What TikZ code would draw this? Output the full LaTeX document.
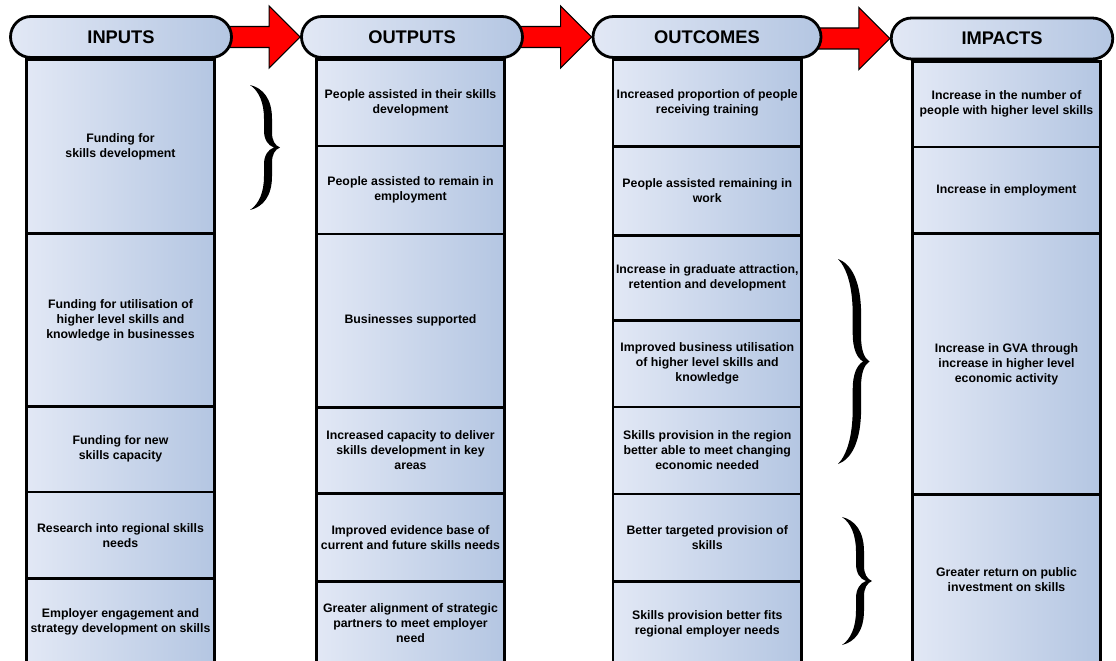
\documentclass[tikz,border=0pt]{standalone}
\usepackage{fontspec}
\setmainfont{Liberation Sans}
\usetikzlibrary{calc,backgrounds}
\definecolor{boxl}{RGB}{226,232,245}
\definecolor{boxr}{RGB}{180,198,226}
\definecolor{arrred}{RGB}{255,0,0}
\newcommand\cellbox[5]{\node[cell, minimum height=#4pt] (#1) at (#2,#3) {#5};}
\begin{document}
\begin{tikzpicture}[x=1pt,y=-1pt,
  cell/.style={draw=black, line width=2.8pt, left color=boxl, right color=boxr,
    align=center, font=\bfseries\fontsize{12.3}{15}\selectfont,
    minimum width=188.5pt, anchor=north, inner sep=2pt},
  head/.style={draw=black, line width=2.8pt, rounded corners=20.5pt,
    left color=boxl, right color=boxr, minimum height=41pt,
    font=\bfseries\fontsize{18.3}{20}\selectfont},
  arrowsty/.style={draw=black, line width=1.2pt, fill=arrred, line join=miter},
  curly/.pic={
    \fill[black] (0,0) .. controls (13,3) and (22,14) .. (22,34) -- (22,48)
      .. controls (22,56) and (25,61) .. (30,63)
      .. controls (25,65) and (22,70) .. (22,78) -- (22,92)
      .. controls (22,112) and (13,123) .. (0,126)
      .. controls (9,120) and (14,108) .. (14,92) -- (14,80)
      .. controls (14,71) and (18,65) .. (24,63)
      .. controls (18,61) and (14,55) .. (14,46) -- (14,34)
      .. controls (14,18) and (9,6) .. (0,0) -- cycle;
  }]
\useasboundingbox (0,0) rectangle (1116,661);
\clip (0,0) rectangle (1116,661);

% INPUTS column
\cellbox{i1}{120.5}{58}{174}{Funding for\\skills development}
\cellbox{i2}{120.5}{232}{173}{Funding for utilisation of\\higher level skills and\\knowledge in businesses}
\cellbox{i3}{120.5}{405}{85.5}{Funding for new\\skills capacity}
\cellbox{i4}{120.5}{490.5}{86.5}{Research into regional skills\\needs}
\cellbox{i5}{120.5}{577}{87}{Employer engagement and\\strategy development on skills}

% OUTPUTS column
\cellbox{o1}{410.5}{58}{86.5}{People assisted in their skills\\development}
\cellbox{o2}{410.5}{144.5}{88}{People assisted to remain in\\employment}
\cellbox{o3}{410.5}{232.5}{173.5}{Businesses supported}
\cellbox{o4}{410.5}{406}{86}{Increased capacity to deliver\\skills development in key\\areas}
\cellbox{o5}{410.5}{492}{88}{Improved evidence base of\\current and future skills needs}
\cellbox{o6}{410.5}{580}{84}{Greater alignment of strategic\\partners to meet employer\\need}

% OUTCOMES column
\cellbox{c1}{707.25}{58}{87}{Increased proportion of people\\receiving training}
\cellbox{c2}{707.25}{145}{89}{People assisted remaining in\\work}
\cellbox{c3}{707.25}{234}{85}{Increase in graduate attraction,\\retention and development}
\cellbox{c4}{707.25}{319}{86.5}{Improved business utilisation\\of higher level skills and\\knowledge}
\cellbox{c5}{707.25}{405.5}{87}{Skills provision in the region\\better able to meet changing\\economic needed}
\cellbox{c6}{707.25}{492.5}{87.5}{Better targeted provision of\\skills}
\cellbox{c7}{707.25}{580}{84}{Skills provision better fits\\regional employer needs}

% IMPACTS column
\cellbox{m1}{1006.5}{60}{85.5}{Increase in the number of\\people with higher level skills}
\cellbox{m2}{1006.5}{145.5}{86.5}{Increase in employment}
\cellbox{m3}{1006.5}{232}{261}{Increase in GVA through\\increase in higher level\\economic activity}
\cellbox{m4}{1006.5}{493}{171}{Greater return on public\\investment on skills}

% headers
\node[head, minimum width=221pt] (hi) at (121,37) {INPUTS};
\node[head, minimum width=221pt] (ho) at (412,37) {OUTPUTS};
\node[head, minimum width=228pt] (hc) at (707,37) {OUTCOMES};
\node[head, minimum width=221.5pt] (hm) at (1002,38.5) {IMPACTS};

% arrows (behind the headers)
\begin{pgfonlayer}{background}
\foreach \a/\b in {hi/ho, ho/hc, hc/hm}{
  \draw[arrowsty] ($(\a.east |- \b.west)+(-20,-10.5)$) -- ($(\b.west)+(-31,-10.5)$)
    -- ($(\b.west)+(-31,-31)$) -- (\b.west) -- ($(\b.west)+(-31,31)$)
    -- ($(\b.west)+(-31,10.5)$) -- ($(\a.east |- \b.west)+(-20,10.5)$) -- cycle;
}
\end{pgfonlayer}

% braces
\path (250,85) pic[yscale=0.992] {curly};
\path (838,259) pic[yscale=1.627, xscale=1.05] {curly};
\path (842,517) pic[yscale=1.016] {curly};
\end{tikzpicture}
\end{document}
